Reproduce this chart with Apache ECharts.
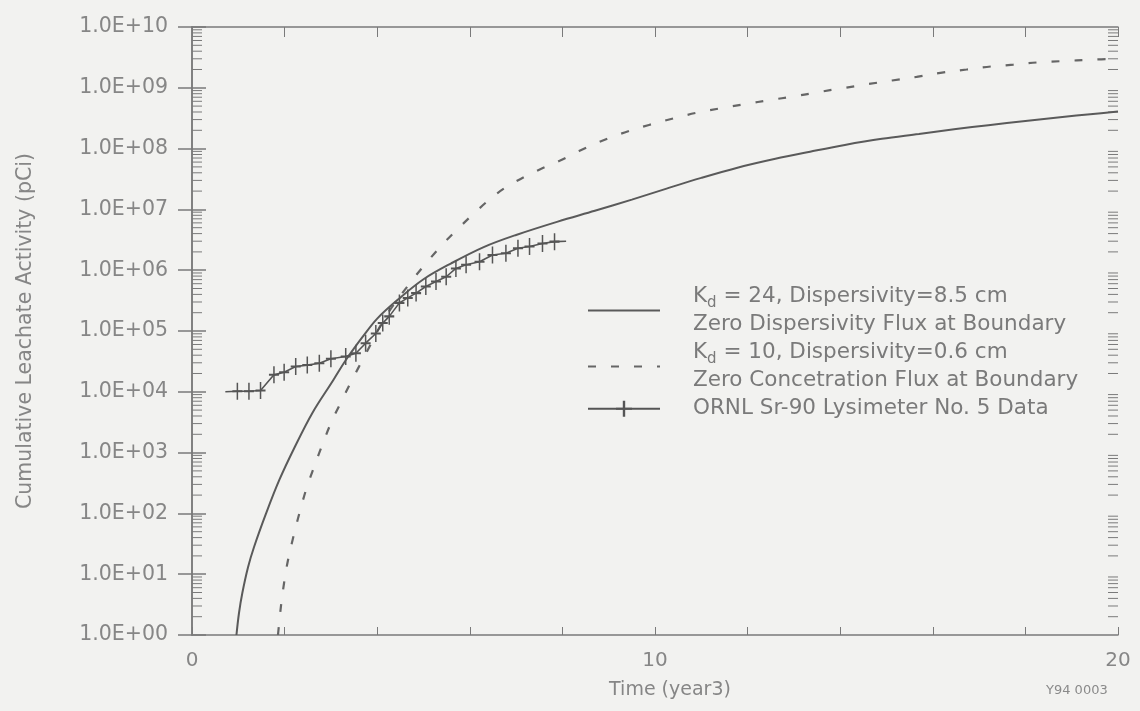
<!DOCTYPE html>
<html>
<head>
<meta charset="utf-8">
<script src="https://cdn.jsdelivr.net/npm/echarts@6/dist/echarts.min.js"></script>
<style>
  html, body { margin: 0; padding: 0; background: #f2f2f0; }
  #chart { width: 1140px; height: 711px; }
</style>
</head>
<body>
<div id="chart"></div>
<script>
// Kd = 24, dispersivity 8.5 cm, zero dispersive flux at boundary
const yearsKd24 = [0.96, 1.015, 1.087, 1.21, 1.34, 1.6, 1.886, 2.225, 2.6, 3.05, 3.32, 3.68, 4.0, 4.45, 5.0, 5.6,
  6.3, 7.0, 7.9, 8.7, 9.5, 10.25, 11.0, 11.8, 12.6, 13.35, 14.1, 14.9, 15.7, 16.5, 17.2, 18.0, 18.8, 19.4, 20];
const activityKd24 = [1.0, 2.3, 4.9, 13, 28, 100, 355, 1.26e3, 4.5e3, 1.55e4, 3.3e4, 7.9e4, 1.6e5, 3.3e5, 7.1e5,
  1.3e6, 2.4e6, 3.8e6, 6.3e6, 9.5e6, 1.45e7, 2.2e7, 3.3e7, 4.9e7, 6.8e7, 8.9e7, 1.15e8, 1.45e8, 1.74e8, 2.1e8,
  2.43e8, 2.85e8, 3.31e8, 3.68e8, 4.07e8];

// Kd = 10, dispersivity 0.6 cm, zero concentration flux at boundary
const yearsKd10 = [1.857, 1.922, 1.998, 2.073, 2.192, 2.322, 2.462, 2.613, 2.797, 3.002, 3.207, 3.456, 3.715, 4.2,
  4.76, 5.09, 5.43, 5.79, 6.17, 6.6, 7.0, 7.5, 7.94, 8.36, 8.86, 9.36, 9.87, 10.41, 10.91, 11.41, 11.95, 12.49,
  12.99, 13.53, 14.03, 14.6, 15.12, 15.65, 16.2, 16.73, 17.25, 17.74, 18.3, 18.82, 19.4, 20];
const activityKd10 = [1.0, 3.0, 8.0, 17, 42, 102, 243, 518, 1.24e3, 3.07e3, 6.5e3, 1.56e4, 3.7e4, 1.8e5, 6.9e5,
  1.4e6, 2.75e6, 5.2e6, 9.8e6, 1.86e7, 2.9e7, 4.5e7, 6.3e7, 9.1e7, 1.35e8, 1.86e8, 2.45e8, 3.16e8, 3.9e8, 4.6e8,
  5.4e8, 6.3e8, 7.2e8, 8.5e8, 9.8e8, 1.15e9, 1.32e9, 1.51e9, 1.78e9, 2.0e9, 2.24e9, 2.4e9, 2.63e9, 2.75e9,
  2.9e9, 3.0e9];

// ORNL Sr-90 lysimeter No. 5 measurements
const yearsLysimeter = [0.72, 0.98, 1.23, 1.48, 1.77, 1.99, 2.24, 2.49, 2.75, 3.0, 3.32, 3.54, 3.75, 3.97, 4.12,
  4.26, 4.48, 4.66, 4.84, 5.05, 5.27, 5.49, 5.7, 5.92, 6.21, 6.49, 6.78, 7.04, 7.29, 7.57, 7.83, 8.08];
const activityLysimeter = [1.0e4, 1.02e4, 1.02e4, 1.05e4, 1.9e4, 2.1e4, 2.6e4, 2.75e4, 2.95e4, 3.5e4, 3.8e4,
  4.3e4, 6.3e4, 9.1e4, 1.35e5, 1.74e5, 2.9e5, 3.5e5, 4.2e5, 5.4e5, 6.5e5, 7.8e5, 1.07e6, 1.23e6, 1.38e6,
  1.78e6, 1.9e6, 2.3e6, 2.45e6, 2.75e6, 2.95e6, 3.0e6];

// Axis ranges and labels
const timeMin = 0, timeMax = 20, timeStep = 2;
const timeLabels = [0, 10, 20];
const activityMin = 1, activityMax = 1e10;

const seriesNames = [
  'Kd = 24, Dispersivity=8.5 cm',
  'Kd = 10, Dispersivity=0.6 cm',
  'ORNL Sr-90 Lysimeter No. 5 Data'
];
const legendLines = {
  'Kd = 24, Dispersivity=8.5 cm': 'K{s|d} = 24, Dispersivity=8.5 cm\nZero Dispersivity Flux at Boundary',
  'Kd = 10, Dispersivity=0.6 cm': 'K{s|d} = 10, Dispersivity=0.6 cm\nZero Concetration Flux at Boundary',
  'ORNL Sr-90 Lysimeter No. 5 Data': 'ORNL Sr-90 Lysimeter No. 5 Data'
};

const FONT = 'DejaVu Sans';
const INK = '#5a5a5a';
const AXIS = '#7a7a7a';
const TEXT = '#868686';

// plus-shaped marker: thin vertical bar crossed by a short horizontal bar
const PLUS = 'path://M4.25,0L5.75,0L5.75,10L4.25,10Z M0,4.4L10,4.4L10,5.6L0,5.6Z';

const pair = (xs, ys) => xs.map((x, i) => [x, ys[i]]);

// log-scale minor tick positions (2..9 within each decade)
const minorTickValues = [];
for (let e = 0; e < 10; e++) {
  for (let m = 2; m <= 9; m++) minorTickValues.push([timeMin, m * Math.pow(10, e)]);
}

const lysimeterData = pair(yearsLysimeter, activityLysimeter).map((p, i, arr) =>
  (i === 0 || i === arr.length - 1) ? { value: p, symbol: 'none' } : p);

const decadeLabel = v => {
  const e = Math.round(Math.log10(v));
  return '1.0E+' + String(e).padStart(2, '0');
};

const chart = echarts.init(document.getElementById('chart'));

chart.setOption({
  backgroundColor: '#f2f2f0',
  animation: false,
  grid: { left: 192, right: 22, top: 27, bottom: 76 },
  legend: {
    data: [
      { name: seriesNames[0], itemStyle: { opacity: 0 } },
      { name: seriesNames[1], itemStyle: { opacity: 0 } },
      { name: seriesNames[2] }
    ],
    orient: 'vertical',
    left: 587,
    top: 283,
    padding: 0,
    itemWidth: 72,
    itemHeight: 20,
    itemGap: 1,
    formatter: name => legendLines[name],
    textStyle: {
      fontFamily: FONT,
      fontSize: 21.5,
      color: '#7a7a7a',
      lineHeight: 27.5,
      padding: [0, 0, 0, 28],
      rich: {
        s: { fontFamily: FONT, fontSize: 15, color: '#7a7a7a', padding: [12, 0, 0, 0] }
      }
    }
  },
  graphic: [{
    type: 'text',
    left: 1046,
    top: 684,
    style: { text: 'Y94 0003', fontFamily: FONT, fontSize: 13, fill: '#8a8a8a' }
  }],
  xAxis: [{
    type: 'value',
    min: timeMin,
    max: timeMax,
    interval: timeStep,
    name: 'Time (year3)',
    nameLocation: 'middle',
    nameGap: 46,
    nameTextStyle: { fontFamily: FONT, fontSize: 19, color: TEXT, padding: [0, 0, 0, 30] },
    axisLine: { lineStyle: { color: AXIS, width: 1.5 } },
    axisTick: { inside: true, length: 8, lineStyle: { color: AXIS } },
    splitLine: { show: false },
    axisLabel: {
      margin: 16,
      fontFamily: FONT,
      fontSize: 20,
      color: TEXT,
      formatter: v => timeLabels.includes(v) ? String(v) : ''
    }
  }, {
    type: 'value',
    position: 'top',
    min: timeMin,
    max: timeMax,
    interval: timeStep,
    axisLine: { lineStyle: { color: AXIS, width: 1.5 } },
    axisTick: { inside: true, length: 10, lineStyle: { color: AXIS } },
    axisLabel: { show: false },
    splitLine: { show: false }
  }],
  yAxis: [{
    type: 'log',
    logBase: 10,
    min: activityMin,
    max: activityMax,
    interval: 1,
    name: 'Cumulative Leachate Activity (pCi)',
    nameLocation: 'middle',
    nameRotate: 90,
    nameGap: 156,
    nameTextStyle: { fontFamily: FONT, fontSize: 20.5, color: TEXT },
    axisLine: { show: true, lineStyle: { color: AXIS, width: 1.5 } },
    axisTick: { inside: true, length: 14, lineStyle: { color: AXIS, width: 1.5 } },
    splitLine: { show: false },
    axisLabel: { margin: 24, fontFamily: FONT, fontSize: 20.5, color: TEXT, formatter: decadeLabel }
  }, {
    type: 'log',
    logBase: 10,
    position: 'right',
    min: activityMin,
    max: activityMax,
    interval: 1,
    axisLine: { show: true, lineStyle: { color: AXIS, width: 1.5 } },
    axisTick: { inside: true, length: 14, lineStyle: { color: AXIS, width: 1.5 } },
    axisLabel: { show: false },
    splitLine: { show: false }
  }],
  series: [{
    name: 'log minor ticks',
    type: 'custom',
    silent: true,
    clip: false,
    xAxisIndex: 0,
    yAxisIndex: 0,
    encode: { x: 0, y: 1 },
    data: minorTickValues,
    renderItem: (params, api) => {
      const v = api.value(1);
      const l = api.coord([timeMin, v]);
      const r = api.coord([timeMax, v]);
      return {
        type: 'group',
        children: [
          { type: 'line', shape: { x1: l[0], y1: l[1], x2: l[0] + 10, y2: l[1] }, style: { stroke: AXIS, lineWidth: 1 } },
          { type: 'line', shape: { x1: r[0], y1: r[1], x2: r[0] - 10, y2: r[1] }, style: { stroke: AXIS, lineWidth: 1 } }
        ]
      };
    }
  }, {
    name: seriesNames[0],
    type: 'line',
    data: pair(yearsKd24, activityKd24),
    smooth: 0.35,
    showSymbol: false,
    symbol: 'none',
    lineStyle: { color: INK, width: 2 },
    itemStyle: { color: INK }
  }, {
    name: seriesNames[1],
    type: 'line',
    data: pair(yearsKd10, activityKd10),
    smooth: 0.35,
    showSymbol: false,
    symbol: 'none',
    lineStyle: { color: '#666', width: 2.2, type: [8, 15] },
    itemStyle: { color: '#666' }
  }, {
    name: seriesNames[2],
    type: 'line',
    data: lysimeterData,
    symbol: PLUS,
    symbolSize: [10, 17],
    showSymbol: true,
    lineStyle: { color: '#555', width: 1.6 },
    itemStyle: { color: '#555' },
    z: 5
  }]
});
</script>
</body>
</html>
